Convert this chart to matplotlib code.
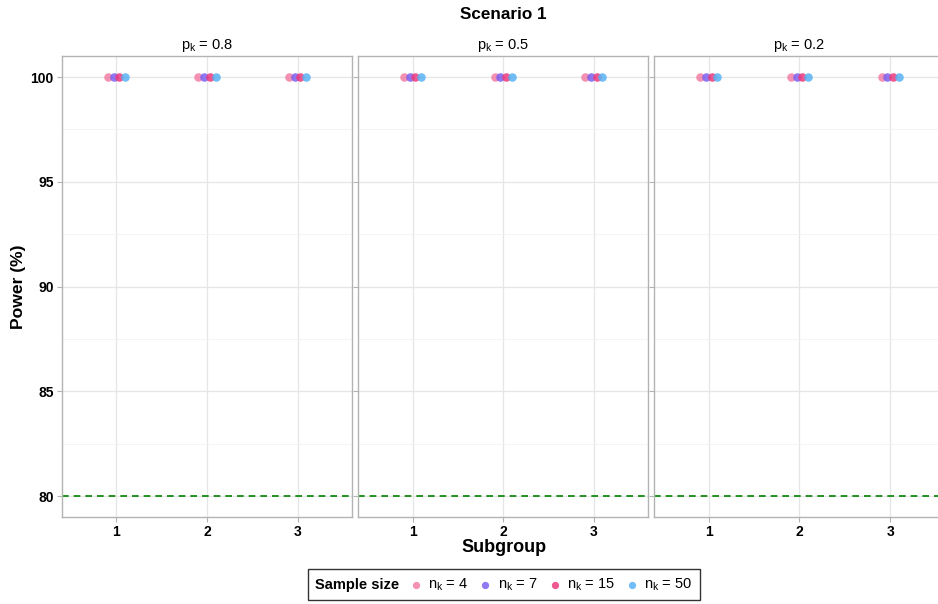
import matplotlib
matplotlib.use("Agg")
import matplotlib.pyplot as plt
import numpy as np
from matplotlib.ticker import MultipleLocator

plt.rcParams['font.family'] = ['Liberation Sans', 'DejaVu Sans']
plt.rcParams['mathtext.fontset'] = 'custom'
plt.rcParams['mathtext.rm'] = 'Liberation Sans'

# data
subgroups = [1, 2, 3]
panel_titles = [r'$\mathregular{p_k}$ = 0.8', r'$\mathregular{p_k}$ = 0.5', r'$\mathregular{p_k}$ = 0.2']
sample_labels = [r'$\mathregular{n_k}$ = 4', r'$\mathregular{n_k}$ = 7',
                 r'$\mathregular{n_k}$ = 15', r'$\mathregular{n_k}$ = 50']
# power (%) per panel, per sample size, per subgroup
power_p08 = [[100, 100, 100], [100, 100, 100], [100, 100, 100], [100, 100, 100]]
power_p05 = [[100, 100, 100], [100, 100, 100], [100, 100, 100], [100, 100, 100]]
power_p02 = [[100, 100, 100], [100, 100, 100], [100, 100, 100], [100, 100, 100]]
target_power = 80

colors = ['#F37FA7', '#7B61F0', '#EC3A7C', '#5AB2F5']
offsets = np.array([-0.094, -0.031, 0.031, 0.094])

fig, axes = plt.subplots(1, 3, figsize=(9.38, 6.04), dpi=100, sharey=True)
fig.subplots_adjust(left=0.066, right=1.007, top=0.907, bottom=0.144, wspace=0.021)

handles = []
for ax, title, data in zip(axes, panel_titles, [power_p08, power_p05, power_p02]):
    for i in range(4):
        h = ax.scatter(np.array(subgroups) + offsets[i], data[i], s=38, color=colors[i],
                       alpha=0.85, linewidths=0, zorder=3)
        if ax is axes[0]:
            handles.append(h)
    ax.axhline(target_power, color='#008000', linestyle=(0, (4, 3)), linewidth=1.2, zorder=2)
    ax.set_xlim(0.4, 3.6)
    ax.set_ylim(79, 101)
    ax.set_xticks(subgroups)
    ax.yaxis.set_major_locator(MultipleLocator(5))
    ax.yaxis.set_minor_locator(MultipleLocator(2.5))
    ax.grid(True, which='major', color='#e6e6e6', linewidth=0.9)
    ax.grid(True, which='minor', axis='y', color='#f2f2f2', linewidth=0.6)
    ax.set_axisbelow(True)
    for sp in ax.spines.values():
        sp.set_color('#b3b3b3')
        sp.set_linewidth(1.0)
    ax.tick_params(which='major', color='#b3b3b3', length=3.5, labelsize=10, pad=2.5)
    ax.tick_params(which='minor', length=0)
    for lab in ax.get_xticklabels() + ax.get_yticklabels():
        lab.set_fontweight('bold')
    ax.set_title(title, fontsize=10.5, pad=5)

axes[0].set_ylabel('Power (%)', fontsize=12.6, fontweight='bold', labelpad=3)
fig.text(0.537, 0.093, 'Subgroup', fontsize=13, fontweight='bold', ha='center', va='center')
fig.suptitle('Scenario 1', fontsize=12.3, fontweight='bold', x=0.537, y=0.988)

leg = fig.legend(handles, sample_labels, loc='lower center', bbox_to_anchor=(0.537, -0.006),
                 ncol=4, frameon=True, fancybox=False, edgecolor='black', fontsize=10.5,
                 title='Sample size', title_fontproperties={'weight': 'bold', 'size': 10.5},
                 handlelength=0.8, handletextpad=0.45, columnspacing=0.55,
                 markerscale=0.85, borderpad=0.5)
leg.get_frame().set_linewidth(1.0)
# put the legend title to the left of the entries
box = leg.get_children()[0]
title_box = box.get_children()[0]
entries = box.get_children()[1]
box._children = [entries]
entries._children.insert(0, title_box)
entries.sep = 8
entries.align = 'center'

fig.savefig('out.png', dpi=100)
